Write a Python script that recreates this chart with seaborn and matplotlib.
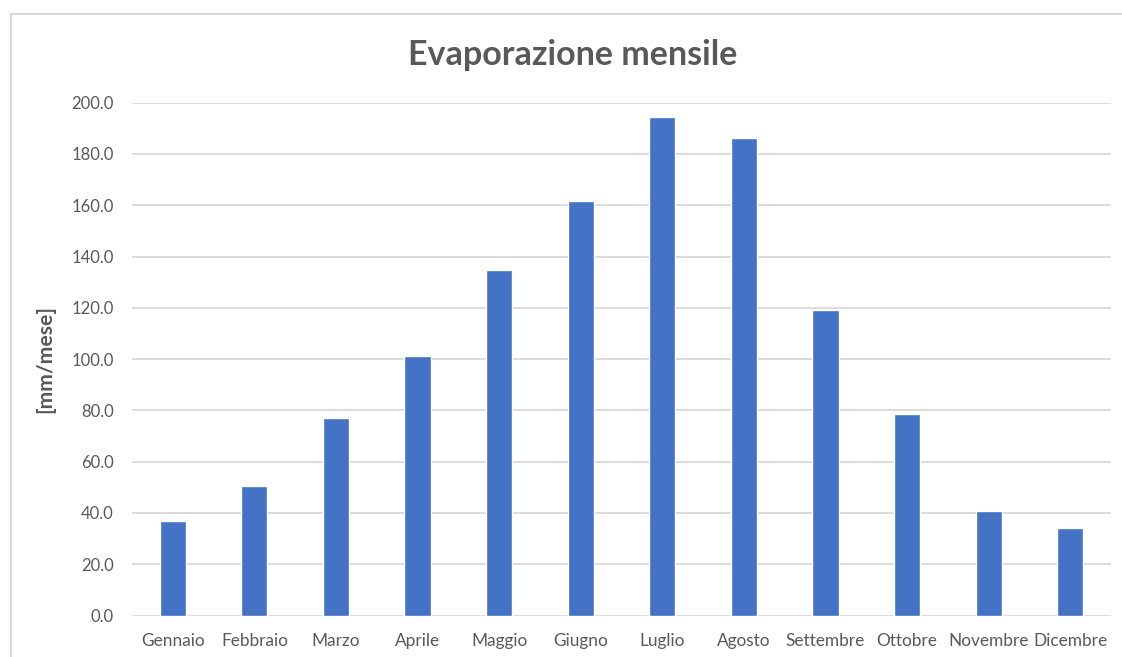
import matplotlib
matplotlib.use("Agg")
import matplotlib.pyplot as plt
from matplotlib.patches import Rectangle
import pandas as pd
import seaborn as sns

mesi = ["Gennaio", "Febbraio", "Marzo", "Aprile", "Maggio", "Giugno",
        "Luglio", "Agosto", "Settembre", "Ottobre", "Novembre", "Dicembre"]
evaporazione = [36.9, 50.6, 76.9, 101.3, 134.7, 161.8,
                194.5, 186.2, 119.0, 78.6, 40.9, 34.1]
y_ticks = [0, 20, 40, 60, 80, 100, 120, 140, 160, 180, 200]

df = pd.DataFrame({"mese": mesi, "evap": evaporazione})

sns.set_theme(style="white")
plt.rcParams["font.family"] = ["Lato", "DejaVu Sans"]

GRAY_TXT = "#595959"
GRID = "#D9D9D9"
BLUE = "#4472C4"

W, H = 1122, 657
fig = plt.figure(figsize=(W / 100, H / 100), dpi=100)
ax = fig.add_axes([132 / W, 1 - 615.5 / H, (1111 - 132) / W, (615.5 - 102.7) / H])

sns.barplot(data=df, x="mese", y="evap", color=BLUE, saturation=1,
            width=0.32, ax=ax, zorder=3)

ax.set_ylim(0, 200)
ax.set_xlim(-0.5, len(mesi) - 0.5)
ax.set_yticks(y_ticks)
ax.set_yticklabels([f"{v:.1f}" for v in y_ticks])
ax.yaxis.grid(True, color=GRID, linewidth=1.3, zorder=0)
ax.set_axisbelow(True)
for s in ax.spines.values():
    s.set_visible(False)

ax.tick_params(axis="both", length=0, labelcolor=GRAY_TXT)
ax.tick_params(axis="y", pad=13, labelsize=12)
ax.tick_params(axis="x", pad=12.5, labelsize=12.4)
ax.set_xlabel("")
ax.set_ylabel("[mm/mese]", fontsize=15.2, fontweight="bold", color=GRAY_TXT,
              labelpad=12)

fig.text(573 / W, 1 - 55 / H, "Evaporazione mensile", ha="center", va="center",
         fontsize=24.5, fontweight="bold", color=GRAY_TXT)

# chart-area frame
fig.add_artist(Rectangle((11 / W, -0.1), 1.2, 1 - 14 / H + 0.1,
                         transform=fig.transFigure, fill=False,
                         edgecolor=GRID, linewidth=1.5, clip_on=False))

fig.savefig("out.png", dpi=100)
